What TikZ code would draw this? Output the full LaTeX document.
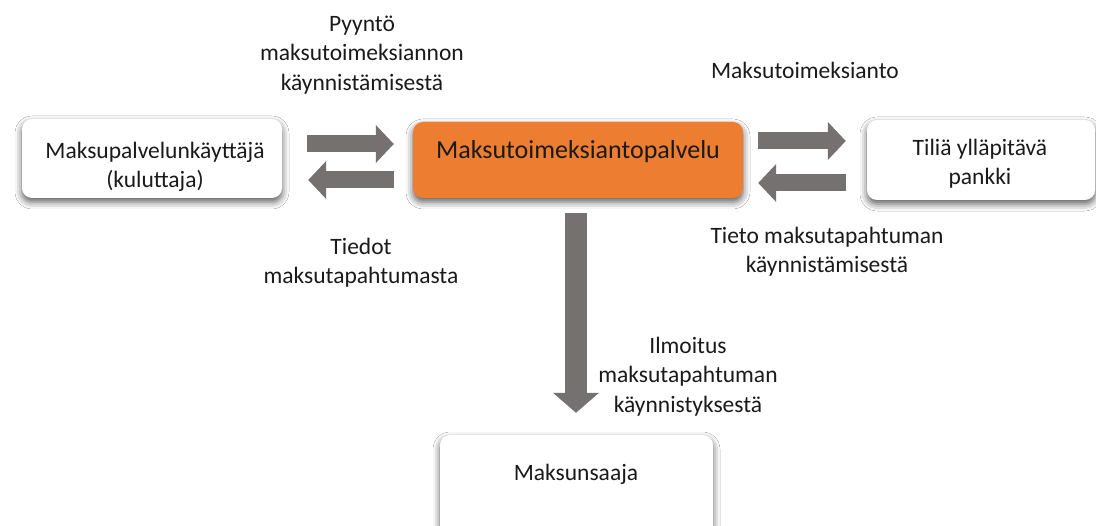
\documentclass[tikz,border=0pt]{standalone}
\usepackage{fontspec}
\setmainfont{Carlito}
\usetikzlibrary{arrows.meta,shadows.blur}
\definecolor{arrgray}{HTML}{767171}
\definecolor{orng}{HTML}{ED7D31}
\definecolor{txt}{HTML}{1A1A1A}
\newcommand{\Rh}{\rule{0pt}{20pt}}
\begin{document}
\begin{tikzpicture}[x=1pt,y=-1pt,
  box/.style={rounded corners=10pt, fill=white, draw=none, inner sep=0pt,
    blur shadow={shadow xshift=0pt, shadow yshift=-4pt, shadow blur radius=7pt, shadow opacity=65}},
  lbl/.style={font=\fontsize{23.5}{29.5}\selectfont, align=center, anchor=north, inner sep=0pt, text=txt},
  barrow/.style={draw=arrgray, line width=17pt, -{Triangle[width=37pt,length=18pt]}},
  darrow/.style={draw=arrgray, line width=22pt, -{Triangle[width=45pt,length=20pt]}},
]
\useasboundingbox (0,0) rectangle (1096,526);
\fill[white] (0,0) rectangle (1096,526);

% boxes
\node[box, minimum width=260pt, minimum height=79pt] (user) at (152,158.5) {};
\node[box, fill=orng, minimum width=330pt, minimum height=76pt] (center) at (578,160) {};
\node[box, minimum width=228pt, minimum height=80pt] (bank) at (981,160) {};
\node[box, minimum width=273pt, minimum height=100pt] (payee) at (576.5,485) {};

% box texts
\node[lbl] (tuser) at (155,138) {\Rh Maksupalvelunkäyttäjä\\(kuluttaja)};
\node[lbl, font=\fontsize{26}{31}\selectfont] (tcenter) at (578,138) {\Rh Maksutoimeksiantopalvelu};
\node[lbl] (tbank) at (980,135) {\Rh Tiliä ylläpitävä\\pankki};
\node[lbl] (tpayee) at (576,460) {\Rh Maksunsaaja};

% block arrows
\draw[barrow] ([xshift=25pt]user.east |- 0,144) -- ([xshift=-19pt]center.west |- 0,144);
\draw[barrow] ([xshift=-19pt]center.west |- 0,180) -- ([xshift=26pt]user.east |- 0,180);
\draw[barrow] ([xshift=15pt]center.east |- 0,141) -- ([xshift=-21pt]bank.west |- 0,141);
\draw[barrow] ([xshift=-21pt]bank.west |- 0,183) -- ([xshift=15pt]center.east |- 0,183);
\draw[darrow] ([yshift=-15pt]center.south -| 576,0) -- ([yshift=22pt]payee.north -| 576,0);

% labels
\node[lbl] (lreq) at (362,11) {\Rh Pyyntö\\maksutoimeksiannon\\käynnistämisestä};
\node[lbl] (lorder) at (805,58) {\Rh Maksutoimeksianto};
\node[lbl] (linfo) at (361,234) {\Rh Tiedot\\maksutapahtumasta};
\node[lbl] (lbankinfo) at (827,223) {\Rh Tieto maksutapahtuman\\käynnistämisestä};
\node[lbl] (lnotice) at (688,333) {\Rh Ilmoitus\\maksutapahtuman\\käynnistyksestä};
\end{tikzpicture}
\end{document}
